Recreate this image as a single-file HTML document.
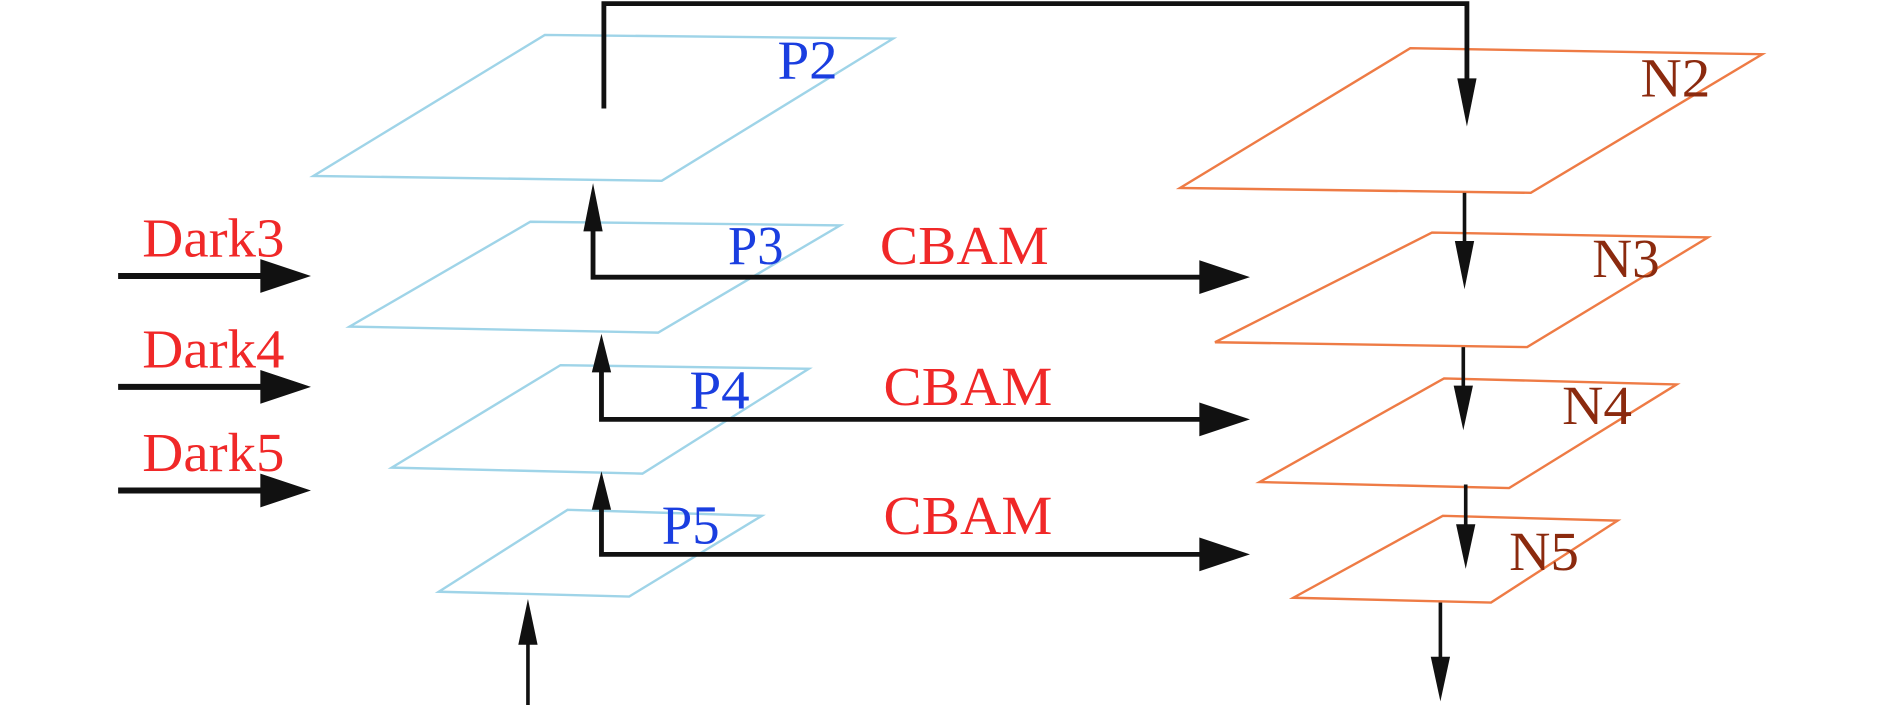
<!DOCTYPE html>
<html><head><meta charset="utf-8"><style>html,body{margin:0;padding:0;background:#fff}svg{display:block}</style></head>
<body>
<svg width="1890" height="705" viewBox="0 0 1568 585" preserveAspectRatio="none" xmlns="http://www.w3.org/2000/svg">
<g fill="none" stroke-width="2">
<polygon points="452,29 741,32 549,150 260,146" stroke="#9fd4e8"/>
<polygon points="440,184 697,187 546,276 290,271" stroke="#9fd4e8"/>
<polygon points="465,303 671,306 533,393 325,388" stroke="#9fd4e8"/>
<polygon points="471,423 632,428 522,495 364,491" stroke="#9fd4e8"/>
<polygon points="1170,40 1462,45 1270,160 979,156" stroke="#ee7b45"/>
<polygon points="1188,193 1417,197 1267,288 1008,284" stroke="#ee7b45"/>
<polygon points="1198,314 1391,319 1252,405 1045,400" stroke="#ee7b45"/>
<polygon points="1197,428 1342,432 1237,500 1073,496" stroke="#ee7b45"/>
</g>
<g stroke="#111" fill="none">
<polyline points="501,90 501,3 1217,3 1217,70" stroke-width="4"/>
<line x1="98" y1="229" x2="220" y2="229" stroke-width="5"/>
<line x1="98" y1="321" x2="220" y2="321" stroke-width="5"/>
<line x1="98" y1="407" x2="220" y2="407" stroke-width="5"/>
<polyline points="492,185 492,230 1000,230" stroke-width="4"/>
<polyline points="499,300 499,348 1000,348" stroke-width="4"/>
<polyline points="499,414 499,460 1000,460" stroke-width="4"/>
<line x1="438" y1="585" x2="438" y2="520" stroke-width="3"/>
<line x1="1215" y1="160" x2="1215" y2="210" stroke-width="3"/>
<line x1="1214" y1="288" x2="1214" y2="330" stroke-width="3"/>
<line x1="1216" y1="402" x2="1216" y2="445" stroke-width="3"/>
<line x1="1195" y1="500" x2="1195" y2="550" stroke-width="3"/>
</g>
<g fill="#111">
<polygon points="216,215 258,229 216,243"/>
<polygon points="216,307 258,321 216,335"/>
<polygon points="216,393 258,407 216,421"/>
<polygon points="995,216 1037,230 995,244"/>
<polygon points="995,334 1037,348 995,362"/>
<polygon points="995,446 1037,460 995,474"/>
<polygon points="484,192 492,152 500,192"/>
<polygon points="491,309 499,277 507,309"/>
<polygon points="491,423 499,391 507,423"/>
<polygon points="430,535 438,497 446,535"/>
<polygon points="1209,65 1217,105 1225,65"/>
<polygon points="1207,200 1215,240 1223,200"/>
<polygon points="1206,320 1214,357 1222,320"/>
<polygon points="1208,435 1216,472 1224,435"/>
<polygon points="1187,545 1195,582 1203,545"/>
</g>
<g font-family="Liberation Serif, serif" font-size="46" lengthAdjust="spacingAndGlyphs">
<text x="118" y="213" fill="#f02828" textLength="118" lengthAdjust="spacingAndGlyphs">Dark3</text>
<text x="118" y="305" fill="#f02828" textLength="118" lengthAdjust="spacingAndGlyphs">Dark4</text>
<text x="118" y="391" fill="#f02828" textLength="118" lengthAdjust="spacingAndGlyphs">Dark5</text>
<text x="730" y="219" fill="#f02828" textLength="140" lengthAdjust="spacingAndGlyphs">CBAM</text>
<text x="733" y="336" fill="#f02828" textLength="140" lengthAdjust="spacingAndGlyphs">CBAM</text>
<text x="733" y="443" fill="#f02828" textLength="140" lengthAdjust="spacingAndGlyphs">CBAM</text>
<text x="645" y="65" fill="#1a3ee0" textLength="50" lengthAdjust="spacingAndGlyphs">P2</text>
<text x="604" y="219" fill="#1a3ee0" textLength="46" lengthAdjust="spacingAndGlyphs">P3</text>
<text x="572" y="339" fill="#1a3ee0" textLength="50" lengthAdjust="spacingAndGlyphs">P4</text>
<text x="549" y="451" fill="#1a3ee0" textLength="48" lengthAdjust="spacingAndGlyphs">P5</text>
<text x="1361" y="80" fill="#8b2a0e" textLength="58" lengthAdjust="spacingAndGlyphs">N2</text>
<text x="1321" y="230" fill="#8b2a0e" textLength="56" lengthAdjust="spacingAndGlyphs">N3</text>
<text x="1296" y="352" fill="#8b2a0e" textLength="58" lengthAdjust="spacingAndGlyphs">N4</text>
<text x="1252" y="473" fill="#8b2a0e" textLength="58" lengthAdjust="spacingAndGlyphs">N5</text>
</g>
</svg>
</body></html>
